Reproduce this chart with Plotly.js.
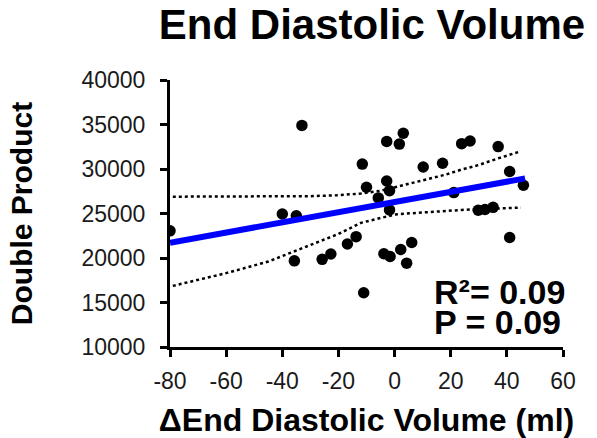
<!DOCTYPE html>
<html>
<head>
<meta charset="utf-8">
<script src="https://cdn.plot.ly/plotly-3.0.1.min.js"></script>
<style>html,body{margin:0;padding:0;background:#fff;}#chart{width:597px;height:438px;}</style>
</head>
<body>
<div id="chart"></div>
<script>
// Scatter data: change in end diastolic volume (ml) vs double product
const edvChange = [-80, -40, -35, -33, -35.7, -25.8, -22.7, -16.8, -13.7, -11.5, -11, -10,
  -5.8, -2.8, -2.8, -1.8, -1.8, -3.8, -1.6, 1.7, 3.1, 2.2, 6.1, 4.3,
  10.2, 17.1, 21.1, 23.9, 26.9, 29.8, 32.2, 35.1, 36.9, 41, 45.9, 41];
const doubleProduct = [23050, 24950, 24750, 34900, 19680, 19850, 20450, 21570, 22400, 30550, 16100, 27950,
  26750, 33100, 28650, 27570, 25400, 20480, 20170, 32800, 34020, 20950, 21740, 19420,
  30230, 30640, 27350, 32850, 33150, 25370, 25450, 25690, 32520, 29720, 28170, 22300];

// Regression line
const fitX = [-80, 46.5];
const fitY = [21720, 28950];

// 95% confidence band
const bandX = [-79, -60, -45, -30, -20, -12, -5, 0, 6, 12, 18, 24, 30, 36, 45];
const upperY = [26890, 26890, 26900, 26950, 27050, 27250, 27550, 27950, 28350, 28900, 29350, 29950, 30450, 31100, 32000];
const lowerY = [16870, 18300, 19600, 21450, 22700, 23950, 24500, 24880, 25030, 25170, 25280, 25400, 25480, 25560, 25660];

const xTicks = [-80, -60, -40, -20, 0, 20, 40, 60];
const yTicks = [10000, 15000, 20000, 25000, 30000, 35000, 40000];

const traces = [
  {x: bandX, y: upperY, type: 'scatter', mode: 'lines', line: {color: '#000', width: 2.5, dash: 'dot'}, hoverinfo: 'skip'},
  {x: bandX, y: lowerY, type: 'scatter', mode: 'lines', line: {color: '#000', width: 2.5, dash: 'dot'}, hoverinfo: 'skip'},
  {x: edvChange, y: doubleProduct, type: 'scatter', mode: 'markers', marker: {color: '#000', size: 11.5}},
  {x: fitX, y: fitY, type: 'scatter', mode: 'lines', line: {color: '#0000ff', width: 6}}
];

const tickFont = {family: 'Liberation Sans, Arial, sans-serif', size: 23, color: '#1a1a1a'};
const boldFont = {family: 'Liberation Sans, Arial, sans-serif', color: '#000', weight: 'bold'};

const layout = {
  width: 597, height: 438,
  margin: {l: 170, r: 34, t: 80, b: 91},
  showlegend: false,
  paper_bgcolor: '#fff', plot_bgcolor: '#fff',
  title: {text: '<b>End Diastolic Volume</b>', font: Object.assign({}, boldFont, {size: 42}),
          x: 372/597, xanchor: 'center', xref: 'container', y: 1 - 10/438, yanchor: 'top', yref: 'container'},
  xaxis: {
    range: [-80, 60], tickvals: xTicks, ticktext: xTicks.map(String),
    showgrid: false, zeroline: false, showline: true, linecolor: '#000', linewidth: 3,
    ticks: 'outside', ticklen: 7, tickwidth: 3, tickcolor: '#000', tickfont: tickFont,
    ticklabelstandoff: 4,
    title: {text: '<b>\u0394End Diastolic Volume (ml)</b>', font: Object.assign({}, boldFont, {size: 32}), standoff: 17}
  },
  yaxis: {
    range: [10000, 40000], tickvals: yTicks, ticktext: yTicks.map(String),
    showgrid: false, zeroline: false, showline: true, linecolor: '#000', linewidth: 3,
    ticks: 'outside', ticklen: 7, tickwidth: 3, tickcolor: '#000', tickfont: tickFont,
    ticklabelstandoff: 10,
    title: {text: '<b>Double Product</b>', font: Object.assign({}, boldFont, {size: 30}), standoff: 40}
  },
  annotations: [
    {xref: 'paper', yref: 'paper', x: (432-170)/393, y: (346.5-312)/267, xanchor: 'left', yanchor: 'bottom',
     text: '<b>R\u00b2= 0.09</b>', showarrow: false, font: Object.assign({}, boldFont, {size: 34})},
    {xref: 'paper', yref: 'paper', x: (432-170)/393, y: (346.5-342)/267, xanchor: 'left', yanchor: 'bottom',
     text: '<b>P = 0.09</b>', showarrow: false, font: Object.assign({}, boldFont, {size: 34})}
  ]
};

Plotly.newPlot('chart', traces, layout, {staticPlot: true, displayModeBar: false});
</script>
</body>
</html>
